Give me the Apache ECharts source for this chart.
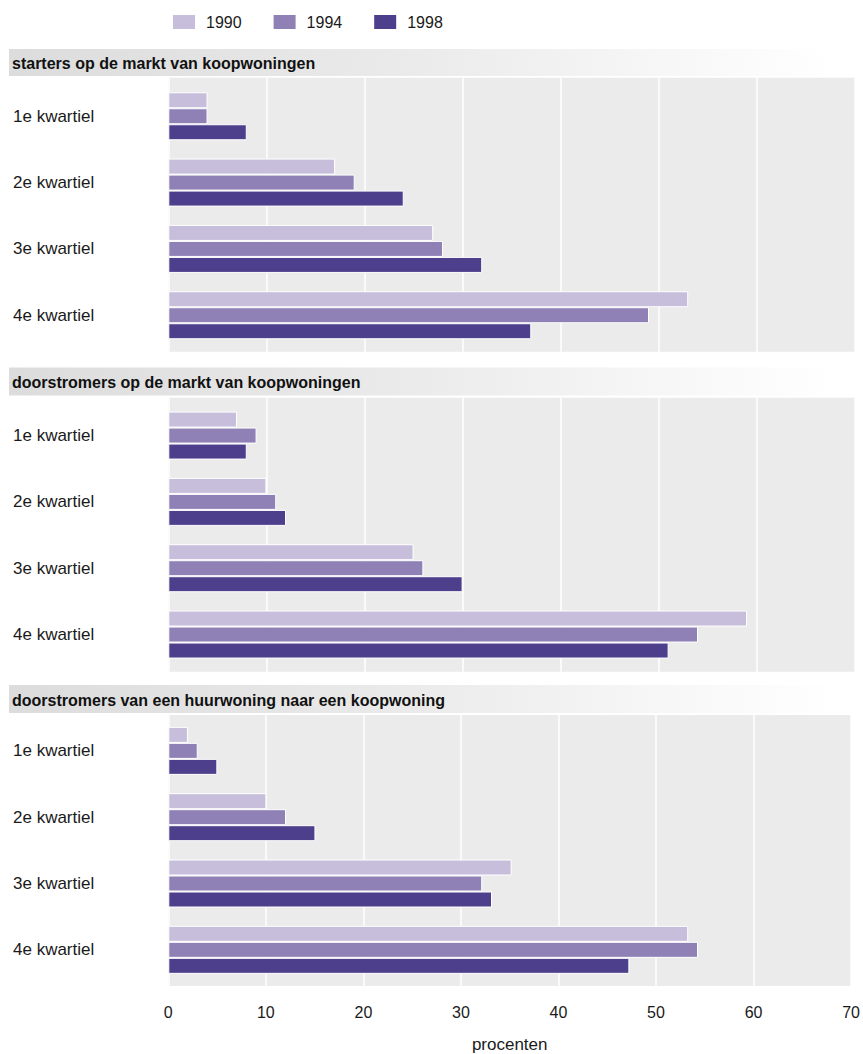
<!DOCTYPE html>
<html>
<head>
<meta charset="utf-8">
<script src="https://cdn.jsdelivr.net/npm/echarts@6/dist/echarts.min.js"></script>
<style>
html,body{margin:0;padding:0;background:#fff;}
#chart{width:863px;height:1054px;}
</style>
</head>
<body>
<div id="chart"></div>
<script>
// ---- data ----
var categories = ['1e kwartiel', '2e kwartiel', '3e kwartiel', '4e kwartiel'];
var years = ['1990', '1994', '1998'];
var panelTitles = [
  'starters op de markt van koopwoningen',
  'doorstromers op de markt van koopwoningen',
  'doorstromers van een huurwoning naar een koopwoning'
];
var starters1990 = [4, 17, 27, 53];
var starters1994 = [4, 19, 28, 49];
var starters1998 = [8, 24, 32, 37];
var doorKoop1990 = [7, 10, 25, 59];
var doorKoop1994 = [9, 11, 26, 54];
var doorKoop1998 = [8, 12, 30, 51];
var huurKoop1990 = [2, 10, 35, 53];
var huurKoop1994 = [3, 12, 32, 54];
var huurKoop1998 = [5, 15, 33, 47];
var xTickMin = 0, xTickMax = 70, xTickStep = 10;
var xAxisName = 'procenten';

// ---- layout / style ----
var FONT = '"Liberation Sans", Arial, Helvetica, sans-serif';
var colors = ['#c7bedb', '#8f80b5', '#4e3f8c'];
var panelValues = [
  [starters1990, starters1994, starters1998],
  [doorKoop1990, doorKoop1994, doorKoop1998],
  [huurKoop1990, huurKoop1994, huurKoop1998]
];
var plotLeft = 168.3, plotRight = 863 - 855;
var bgBoxes = [[77.7, 351.7], [397.7, 671.7], [715, 988.3]];
var dataBoxes = [[83.1, 348.4], [402.4, 667.7], [717.7, 983.0]];
var headerBoxes = [[49, 27], [367.5, 28], [685, 28]];

var grids = [], xAxes = [], yAxes = [], series = [], graphics = [];

// background grids
bgBoxes.forEach(function (b, i) {
  grids.push({left: plotLeft, right: plotRight, top: b[0], height: b[1] - b[0],
    show: true, backgroundColor: '#ebebeb', borderWidth: 0});
  var last = (i === 2);
  xAxes.push({gridIndex: i, type: 'value', min: xTickMin, max: xTickMax, interval: xTickStep,
    axisLine: {show: false}, axisTick: {show: false},
    splitLine: {show: true, lineStyle: {color: '#ffffff', width: 1.5}},
    axisLabel: {show: last, margin: 18, color: '#1a1a1a', fontSize: 16, fontFamily: FONT},
    name: last ? xAxisName : '', nameLocation: 'middle', nameGap: 50,
    nameTextStyle: {color: '#1a1a1a', fontSize: 17, fontFamily: FONT}});
  yAxes.push({gridIndex: i, type: 'value', show: false, min: 0, max: 1, splitLine: {show: false}});
});

// data grids
dataBoxes.forEach(function (b, p) {
  var gi = 3 + p;
  grids.push({left: plotLeft, right: plotRight, top: b[0], height: b[1] - b[0], show: false});
  xAxes.push({gridIndex: gi, type: 'value', min: xTickMin, max: xTickMax, interval: xTickStep,
    show: false, splitLine: {show: false}});
  yAxes.push({gridIndex: gi, type: 'category', data: categories, inverse: true,
    axisLine: {show: false}, axisTick: {show: false}, splitLine: {show: false},
    axisLabel: {align: 'left', margin: plotLeft - 13, color: '#1a1a1a', fontSize: 17, fontFamily: FONT}});
  panelValues[p].forEach(function (vals, s) {
    series.push({
      type: 'bar', name: years[s], xAxisIndex: gi, yAxisIndex: gi,
      data: vals, barWidth: 16, barGap: '0%',
      itemStyle: {color: colors[s], borderColor: '#ffffff', borderWidth: 1},
      emphasis: {disabled: true}, animation: false
    });
  });
});

// header strips
headerBoxes.forEach(function (h, i) {
  graphics.push({type: 'rect', z: -1, shape: {x: 9, y: h[0], width: 826, height: h[1]},
    style: {fill: new echarts.graphic.LinearGradient(0, 0, 1, 0, [
      {offset: 0, color: '#dcdcdc'}, {offset: 0.5, color: '#ebebeb'}, {offset: 1, color: '#ffffff'}])}});
  graphics.push({type: 'text', x: 12, y: h[0] + h[1] / 2 + 1,
    style: {text: panelTitles[i], fill: '#111111', font: 'bold 16px ' + FONT, verticalAlign: 'middle'}});
});

var chart = echarts.init(document.getElementById('chart'), null, {renderer: 'svg'});
chart.setOption({
  animation: false,
  backgroundColor: '#ffffff',
  legend: {
    data: years, left: 171, top: 13, padding: 0, itemWidth: 24, itemHeight: 16, itemGap: 30,
    icon: 'rect', selectedMode: false,
    textStyle: {color: '#1a1a1a', fontSize: 16, fontFamily: FONT, padding: [0, 0, 0, 5]}
  },
  grid: grids,
  xAxis: xAxes,
  yAxis: yAxes,
  series: series,
  graphic: graphics
});
</script>
</body>
</html>
